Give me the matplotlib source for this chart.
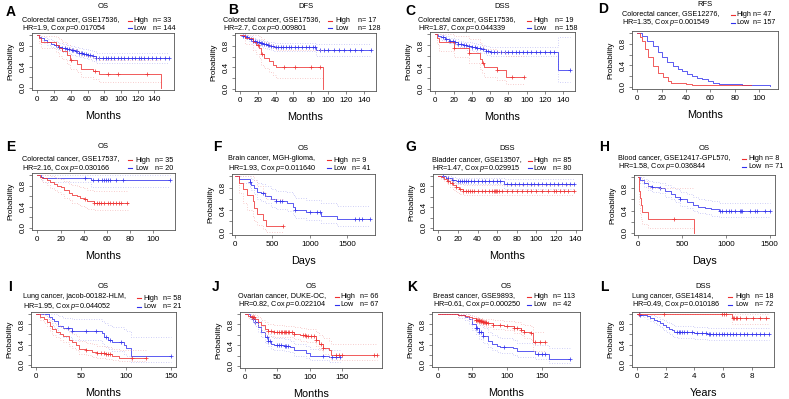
import matplotlib
matplotlib.use("Agg")
import matplotlib.pyplot as plt
from matplotlib.lines import Line2D
import numpy as np

plt.rcParams['font.family'] = ['Liberation Sans', 'DejaVu Sans']
plt.rcParams['mathtext.fontset'] = 'custom'
plt.rcParams['mathtext.rm'] = 'Liberation Sans'
plt.rcParams['mathtext.it'] = 'Liberation Sans:italic'

W, H = 789, 399

# ---- data: step times, survival after step, 95% CI (lo/hi), censor times ----
# A  OS colorectal GSE17536
a_high_t = [0, 2, 4, 22, 26, 30, 35, 39, 48, 52, 66, 74, 148]
a_high_s = [1.0, 0.94, 0.87, 0.81, 0.75, 0.69, 0.62, 0.52, 0.46, 0.36, 0.32, 0.26, 0.0]
a_high_lo = [1.0, 0.86, 0.76, 0.68, 0.61, 0.54, 0.46, 0.36, 0.30, 0.21, 0.17, 0.12, 0.12]
a_high_hi = [1.0, 1.0, 0.99, 0.96, 0.92, 0.87, 0.82, 0.74, 0.69, 0.60, 0.57, 0.52, 0.52]
a_high_c = [40, 69, 84, 96, 131]
a_low_t = [0, 2, 5, 8, 12, 16, 20, 25, 30, 35, 40, 45, 50, 55, 60, 65, 70, 157]
a_low_s = [1.0, 0.97, 0.94, 0.91, 0.87, 0.84, 0.81, 0.78, 0.75, 0.73, 0.71, 0.69, 0.67, 0.65, 0.62, 0.60, 0.56, 0.56]
a_low_lo = [1.0, 0.94, 0.90, 0.86, 0.82, 0.78, 0.75, 0.71, 0.68, 0.66, 0.63, 0.61, 0.59, 0.57, 0.54, 0.51, 0.47, 0.47]
a_low_hi = [1.0, 1.0, 0.98, 0.96, 0.93, 0.90, 0.88, 0.85, 0.83, 0.81, 0.79, 0.78, 0.76, 0.74, 0.72, 0.70, 0.66, 0.66]
a_low_c = [22, 26, 30, 33, 36, 38, 41, 43, 46, 48, 50, 52, 54, 56, 58, 61, 63, 66, 70, 74, 78, 82, 85,
           88, 92, 96, 100, 104, 108, 113, 117, 121, 124, 128, 132, 137, 142, 147, 152, 157]

# B  DFS colorectal GSE17536
b_high_t = [0, 5, 15, 18, 21, 24, 27, 33, 37, 41, 94]
b_high_s = [1.0, 0.94, 0.88, 0.82, 0.76, 0.64, 0.58, 0.52, 0.45, 0.40, 0.0]
b_high_lo = [1.0, 0.83, 0.73, 0.65, 0.57, 0.44, 0.38, 0.32, 0.26, 0.21, 0.21]
b_high_hi = [1.0, 1.0, 1.0, 1.0, 0.99, 0.92, 0.87, 0.82, 0.77, 0.73, 0.73]
b_high_c = [20, 25, 50, 62, 80, 90]
b_low_t = [0, 3, 6, 10, 14, 18, 22, 26, 30, 35, 38, 86, 148]
b_low_s = [1.0, 0.98, 0.96, 0.93, 0.90, 0.87, 0.85, 0.83, 0.81, 0.79, 0.78, 0.72, 0.72]
b_low_lo = [1.0, 0.96, 0.92, 0.89, 0.85, 0.81, 0.79, 0.77, 0.74, 0.72, 0.71, 0.62, 0.62]
b_low_hi = [1.0, 1.0, 1.0, 0.98, 0.95, 0.93, 0.91, 0.90, 0.88, 0.87, 0.86, 0.83, 0.83]
b_low_c = [3, 5, 8, 12, 15, 17, 19, 21, 23, 25, 27, 29, 31, 33, 35, 37, 40, 43, 46, 49, 52, 55, 58,
           62, 66, 70, 74, 78, 82, 85, 90, 95, 100, 106, 112, 118, 124, 130, 137, 148]

# C  DSS colorectal GSE17536
c_high_t = [0, 2, 4, 20, 37, 49, 51, 53, 68, 77, 97]
c_high_s = [1.0, 0.93, 0.85, 0.75, 0.66, 0.55, 0.48, 0.40, 0.34, 0.22, 0.22]
c_high_lo = [1.0, 0.82, 0.70, 0.58, 0.47, 0.36, 0.29, 0.22, 0.17, 0.08, 0.08]
c_high_hi = [1.0, 1.0, 1.0, 0.97, 0.92, 0.84, 0.78, 0.72, 0.67, 0.60, 0.60]
c_high_c = [20, 37, 52, 68, 84, 97]
c_low_t = [0, 3, 6, 10, 15, 20, 25, 30, 35, 40, 45, 50, 55, 60, 134, 147]
c_low_s = [1.0, 0.97, 0.94, 0.91, 0.88, 0.85, 0.82, 0.80, 0.78, 0.76, 0.74, 0.72, 0.70, 0.68, 0.34, 0.34]
c_low_lo = [1.0, 0.94, 0.90, 0.87, 0.83, 0.80, 0.76, 0.74, 0.71, 0.69, 0.67, 0.65, 0.62, 0.60, 0.12, 0.12]
c_low_hi = [1.0, 1.0, 0.98, 0.96, 0.93, 0.91, 0.88, 0.86, 0.85, 0.83, 0.82, 0.80, 0.79, 0.77, 0.95, 0.95]
c_low_c = [8, 12, 16, 19, 22, 25, 28, 31, 34, 37, 40, 43, 46, 49, 52, 55, 58, 61, 64, 68, 72, 76,
           80, 84, 88, 92, 96, 100, 105, 110, 115, 120, 125, 130, 147]

# D  RFS colorectal GSE12276
d_high_t = [0, 2, 3.5, 6, 9, 13, 17, 21, 25, 28, 33, 40, 45, 53, 93]
d_high_s = [1.0, 0.92, 0.86, 0.71, 0.56, 0.38, 0.26, 0.18, 0.11, 0.08, 0.07, 0.06, 0.04, 0.03, 0.03]
d_high_lo = []
d_high_hi = []
d_high_c = []
d_low_t = [0, 3.5, 8, 13, 17, 20, 24, 29, 33, 37, 41, 45, 49, 53, 58, 62, 67, 72, 86, 99, 109]
d_low_s = [1.0, 0.95, 0.86, 0.77, 0.65, 0.56, 0.47, 0.38, 0.33, 0.29, 0.24, 0.20, 0.17, 0.14, 0.11, 0.08, 0.06, 0.05, 0.04, 0.03, 0.01]
d_low_lo = []
d_low_hi = []
d_low_c = []

# E  OS colorectal GSE17537
e_high_t = [0, 2, 4, 8, 11, 14, 17, 20, 23, 27, 30, 34, 37, 40, 43, 49, 78]
e_high_s = [1.0, 0.97, 0.94, 0.91, 0.86, 0.83, 0.80, 0.77, 0.71, 0.66, 0.63, 0.60, 0.57, 0.54, 0.51, 0.48, 0.48]
e_high_lo = [1.0, 0.92, 0.86, 0.82, 0.75, 0.71, 0.68, 0.64, 0.57, 0.52, 0.48, 0.45, 0.42, 0.39, 0.36, 0.33, 0.33]
e_high_hi = [1.0, 1.0, 1.0, 1.0, 0.98, 0.96, 0.94, 0.92, 0.88, 0.84, 0.82, 0.80, 0.77, 0.75, 0.72, 0.70, 0.70]
e_high_c = [41, 49, 51, 53, 55, 57, 61, 63, 65, 68, 70, 72, 77]
e_low_t = [0, 3, 5, 46, 114]
e_low_s = [1.0, 0.97, 0.95, 0.90, 0.90]
e_low_lo = [1.0, 0.90, 0.86, 0.77, 0.77]
e_low_hi = [1.0, 1.0, 1.0, 1.0, 1.0]
e_low_c = [41, 48, 52, 56, 57, 59, 61, 63, 68, 74, 114]

# F  OS brain MGH-glioma (days)
f_high_t = [0, 50, 110, 160, 240, 260, 290, 370, 410, 640]
f_high_s = [1.0, 0.889, 0.778, 0.667, 0.556, 0.444, 0.333, 0.222, 0.111, 0.111]
f_high_lo = [1.0, 0.70, 0.53, 0.40, 0.30, 0.21, 0.13, 0.07, 0.02, 0.02]
f_high_hi = [1.0, 1.0, 1.0, 1.0, 1.0, 0.93, 0.83, 0.72, 0.60, 0.60]
f_high_c = [640]
f_low_t = [0, 50, 200, 220, 250, 300, 350, 400, 480, 550, 700, 780, 800, 950, 1150, 1360, 1800]
f_low_s = [1.0, 0.95, 0.90, 0.85, 0.80, 0.73, 0.70, 0.65, 0.60, 0.56, 0.53, 0.46, 0.40, 0.36, 0.30, 0.25, 0.25]
f_low_lo = [1.0, 0.88, 0.81, 0.75, 0.69, 0.60, 0.57, 0.52, 0.46, 0.42, 0.39, 0.32, 0.26, 0.22, 0.17, 0.12, 0.12]
f_low_hi = [1.0, 1.0, 1.0, 0.96, 0.93, 0.88, 0.86, 0.82, 0.78, 0.74, 0.72, 0.66, 0.61, 0.58, 0.52, 0.48, 0.48]
f_low_c = [200, 380, 550, 600, 630, 800, 1000, 1100, 1130, 1600, 1650, 1700, 1800]

# G  DSS bladder GSE13507
g_high_t = [0, 3, 6, 9, 12, 15, 18, 21, 25, 138]
g_high_s = [1.0, 0.98, 0.95, 0.91, 0.86, 0.82, 0.78, 0.75, 0.72, 0.72]
g_high_lo = [1.0, 0.95, 0.90, 0.85, 0.79, 0.74, 0.70, 0.66, 0.63, 0.63]
g_high_hi = [1.0, 1.0, 1.0, 0.97, 0.94, 0.91, 0.87, 0.85, 0.83, 0.83]
g_high_c = [10, 14, 18, 22, 25, 28, 30, 32, 34, 36, 40, 44, 48, 52, 55, 57, 58, 59, 60, 62, 65, 70,
            75, 80, 85, 90, 95, 100, 106, 112, 118, 120, 124, 128, 132, 138]
g_low_t = [0, 8, 14, 18, 67, 138]
g_low_s = [1.0, 0.97, 0.93, 0.90, 0.84, 0.84]
g_low_lo = [1.0, 0.93, 0.88, 0.84, 0.75, 0.75]
g_low_hi = [1.0, 1.0, 0.99, 0.97, 0.94, 0.94]
g_low_c = [5, 10, 15, 20, 22, 24, 26, 28, 30, 33, 36, 40, 44, 48, 52, 56, 60, 63, 70, 74, 78, 82,
           86, 90, 94, 98, 102, 106, 110, 114, 118, 122, 126, 130, 134, 138]

# H  OS blood GSE12417-GPL570 (days)
h_high_t = [0, 5, 10, 20, 30, 40, 110, 630]
h_high_s = [1.0, 0.875, 0.75, 0.625, 0.5, 0.375, 0.25, 0.0]
h_high_lo = [1.0, 0.67, 0.50, 0.36, 0.25, 0.15, 0.08, 0.08]
h_high_hi = [1.0, 1.0, 1.0, 1.0, 1.0, 0.93, 0.80, 0.80]
h_high_c = [410]
h_low_t = [0, 20, 60, 110, 150, 250, 300, 370, 420, 470, 560, 620, 680, 760, 830, 920, 1500]
h_low_s = [1.0, 0.95, 0.90, 0.85, 0.82, 0.80, 0.75, 0.70, 0.65, 0.60, 0.55, 0.50, 0.47, 0.44, 0.42, 0.39, 0.39]
h_low_lo = [1.0, 0.90, 0.83, 0.77, 0.73, 0.71, 0.65, 0.60, 0.55, 0.49, 0.44, 0.39, 0.36, 0.33, 0.31, 0.28, 0.28]
h_low_hi = [1.0, 1.0, 0.97, 0.94, 0.92, 0.90, 0.86, 0.82, 0.78, 0.73, 0.69, 0.64, 0.61, 0.59, 0.57, 0.54, 0.54]
h_low_c = [150, 250, 480, 930, 960, 1000, 1030, 1060, 1100, 1160, 1170, 1180, 1280, 1330, 1360, 1450, 1500]

# I  OS lung jacob-00182-HLM
i_high_t = [0, 4, 8, 12, 15, 18, 22, 26, 30, 36, 40, 44, 48, 55, 62, 68, 78, 84, 92, 123]
i_high_s = [1.0, 0.95, 0.90, 0.85, 0.76, 0.70, 0.65, 0.60, 0.57, 0.50, 0.46, 0.40, 0.32, 0.29, 0.26, 0.23, 0.21, 0.17, 0.14, 0.14]
i_high_lo = [1.0, 0.89, 0.83, 0.76, 0.66, 0.59, 0.54, 0.49, 0.45, 0.38, 0.34, 0.29, 0.22, 0.19, 0.16, 0.14, 0.12, 0.09, 0.07, 0.07]
i_high_hi = [1.0, 1.0, 0.98, 0.95, 0.88, 0.83, 0.79, 0.74, 0.71, 0.65, 0.61, 0.56, 0.48, 0.44, 0.41, 0.38, 0.36, 0.32, 0.29, 0.29]
i_high_c = [55, 68, 72, 76, 78, 80, 82, 107, 123]
i_low_t = [0, 14, 18, 20, 24, 30, 40, 73, 75, 80, 85, 98, 100, 106, 150]
i_low_s = [1.0, 0.95, 0.90, 0.86, 0.76, 0.72, 0.67, 0.62, 0.55, 0.50, 0.46, 0.40, 0.34, 0.17, 0.17]
i_low_lo = [1.0, 0.86, 0.78, 0.72, 0.60, 0.55, 0.50, 0.44, 0.37, 0.32, 0.28, 0.22, 0.17, 0.05, 0.05]
i_low_hi = [1.0, 1.0, 1.0, 1.0, 0.96, 0.93, 0.90, 0.87, 0.82, 0.78, 0.75, 0.71, 0.67, 0.55, 0.55]
i_low_c = [35, 40, 55, 67, 78, 82, 95, 150]

# J  OS ovarian DUKE-OC
j_high_t = [0, 5, 10, 15, 20, 25, 30, 35, 45, 60, 75, 85, 95, 110, 115, 120, 130, 133, 204]
j_high_s = [1.0, 0.97, 0.95, 0.90, 0.85, 0.78, 0.72, 0.68, 0.66, 0.65, 0.62, 0.60, 0.58, 0.50, 0.43, 0.35, 0.30, 0.22, 0.22]
j_high_lo = [1.0, 0.93, 0.90, 0.83, 0.77, 0.69, 0.62, 0.58, 0.56, 0.55, 0.51, 0.49, 0.47, 0.38, 0.31, 0.23, 0.18, 0.11, 0.11]
j_high_hi = [1.0, 1.0, 1.0, 0.98, 0.94, 0.89, 0.84, 0.80, 0.78, 0.77, 0.75, 0.73, 0.72, 0.65, 0.59, 0.53, 0.48, 0.42, 0.42]
j_high_c = [10, 12, 14, 35, 40, 45, 50, 52, 55, 57, 60, 62, 64, 66, 68, 72, 75, 90, 92, 95, 98,
            102, 106, 110, 118, 120, 140, 146, 150, 200, 204]
j_low_t = [0, 8, 12, 15, 20, 25, 30, 35, 40, 45, 60, 70, 75, 95, 100, 130, 147]
j_low_s = [1.0, 0.95, 0.90, 0.85, 0.75, 0.65, 0.55, 0.48, 0.42, 0.40, 0.39, 0.36, 0.30, 0.25, 0.20, 0.17, 0.17]
j_low_lo = [1.0, 0.90, 0.83, 0.77, 0.66, 0.55, 0.45, 0.38, 0.32, 0.30, 0.29, 0.26, 0.20, 0.16, 0.11, 0.08, 0.08]
j_low_hi = [1.0, 1.0, 0.97, 0.94, 0.86, 0.77, 0.68, 0.61, 0.55, 0.53, 0.52, 0.49, 0.43, 0.38, 0.33, 0.30, 0.30]
j_low_c = [12, 15, 34, 36, 38, 50, 52, 55, 62, 64, 66, 120, 135, 140, 147]

# K  OS breast GSE9893
k_high_t = [0, 20, 30, 40, 45, 50, 55, 60, 65, 70, 80, 95, 110, 120, 125, 135, 137, 155]
k_high_s = [1.0, 1.0, 0.99, 0.97, 0.94, 0.92, 0.89, 0.86, 0.84, 0.82, 0.79, 0.77, 0.73, 0.69, 0.65, 0.62, 0.45, 0.45]
k_high_lo = [1.0, 1.0, 0.97, 0.94, 0.90, 0.87, 0.83, 0.80, 0.77, 0.75, 0.71, 0.68, 0.63, 0.58, 0.53, 0.49, 0.28, 0.28]
k_high_hi = [1.0, 1.0, 1.0, 1.0, 0.99, 0.97, 0.95, 0.93, 0.91, 0.90, 0.88, 0.86, 0.84, 0.81, 0.78, 0.76, 0.65, 0.65]
k_high_c = [55, 56, 57, 58, 59, 60, 61, 62, 63, 64, 65, 66, 67, 68, 69, 70, 72, 80, 90, 100,
            110, 115, 120, 125, 135, 140, 147, 155]
k_low_t = [0, 20, 30, 40, 45, 50, 55, 60, 65, 72, 78, 85, 90, 108, 115, 140, 160, 190]
k_low_s = [1.0, 1.0, 0.98, 0.95, 0.90, 0.80, 0.72, 0.64, 0.56, 0.48, 0.42, 0.38, 0.36, 0.33, 0.27, 0.22, 0.12, 0.12]
k_low_lo = [1.0, 1.0, 0.93, 0.88, 0.81, 0.69, 0.60, 0.51, 0.43, 0.35, 0.29, 0.25, 0.23, 0.20, 0.15, 0.11, 0.03, 0.03]
k_low_hi = [1.0, 1.0, 1.0, 1.0, 0.99, 0.92, 0.86, 0.79, 0.72, 0.65, 0.59, 0.55, 0.53, 0.50, 0.44, 0.40, 0.34, 0.34]
k_low_c = [55, 57, 60, 62, 65, 95, 145, 150, 155, 190]

# L  DSS lung GSE14814 (years)
l_high_t = [0, 6.6, 9.2]
l_high_s = [1.0, 0.93, 0.93]
l_high_lo = [1.0, 0.80, 0.80]
l_high_hi = [1.0, 1.0, 1.0]
l_high_c = [0.1, 1.9, 5.9, 6.1, 6.2, 6.7, 6.8, 6.9, 7.0, 7.2, 7.6, 8.1, 8.6, 9.0]
l_low_t = [0, 0.2, 0.5, 0.7, 0.9, 1.2, 1.4, 1.6, 1.8, 2.0, 2.2, 2.4, 2.6, 2.8, 4.0, 4.9, 9.2]
l_low_s = [1.0, 0.99, 0.98, 0.96, 0.92, 0.89, 0.86, 0.82, 0.78, 0.74, 0.71, 0.68, 0.65, 0.64, 0.62, 0.60, 0.60]
l_low_lo = [1.0, 0.96, 0.94, 0.91, 0.86, 0.82, 0.78, 0.74, 0.69, 0.64, 0.61, 0.57, 0.54, 0.53, 0.51, 0.49, 0.49]
l_low_hi = [1.0, 1.0, 1.0, 1.0, 0.98, 0.96, 0.94, 0.91, 0.88, 0.85, 0.82, 0.80, 0.77, 0.76, 0.75, 0.73, 0.73]
l_low_c = [0.1, 0.2, 2.8, 2.9, 3.0, 3.1, 3.3, 3.5, 3.8, 4.2, 4.5, 4.8, 5.0, 5.1, 5.3, 5.5, 5.7,
           5.9, 6.1, 6.3, 6.5, 6.7, 6.9, 7.2, 7.5, 7.7, 8.0, 8.3, 8.6, 8.9, 9.2]

letters = list("ABCDEFGHIJKL")
titles = ["OS", "DFS", "DSS", "RFS", "OS", "OS", "DSS", "OS", "OS", "OS", "OS", "DSS"]
datasets = ["Colorectal cancer, GSE17536,", "Colorectal cancer, GSE17536,", "Colorectal cancer, GSE17536,",
            "Colorectal cancer, GSE12276,", "Colorectal cancer, GSE17537,", "Brain cancer, MGH-glioma,",
            "Bladder cancer, GSE13507,", "Blood cancer, GSE12417-GPL570,", "Lung cancer, jacob-00182-HLM,",
            "Ovarian cancer, DUKE-OC,", "Breast cancer, GSE9893,", "Lung cancer, GSE14814,"]
hrs = ["1.9", "2.7", "1.87", "1.35", "2.16", "1.93", "1.47", "1.58", "1.95", "0.82", "0.61", "0.49"]
pvals = ["0.017054", "0.009801", "0.044339", "0.001549", "0.030166", "0.011640",
         "0.029915", "0.036844", "0.044052", "0.022104", "0.000250", "0.010186"]
n_high = [33, 17, 19, 47, 35, 9, 85, 8, 58, 66, 113, 18]
n_low = [144, 128, 158, 157, 20, 41, 80, 71, 21, 67, 42, 72]
xlabels = ["Months"] * 5 + ["Days", "Months", "Days", "Months", "Months", "Months", "Years"]

curves = [
    ((a_high_t, a_high_s, a_high_lo, a_high_hi, a_high_c), (a_low_t, a_low_s, a_low_lo, a_low_hi, a_low_c)),
    ((b_high_t, b_high_s, b_high_lo, b_high_hi, b_high_c), (b_low_t, b_low_s, b_low_lo, b_low_hi, b_low_c)),
    ((c_high_t, c_high_s, c_high_lo, c_high_hi, c_high_c), (c_low_t, c_low_s, c_low_lo, c_low_hi, c_low_c)),
    ((d_high_t, d_high_s, d_high_lo, d_high_hi, d_high_c), (d_low_t, d_low_s, d_low_lo, d_low_hi, d_low_c)),
    ((e_high_t, e_high_s, e_high_lo, e_high_hi, e_high_c), (e_low_t, e_low_s, e_low_lo, e_low_hi, e_low_c)),
    ((f_high_t, f_high_s, f_high_lo, f_high_hi, f_high_c), (f_low_t, f_low_s, f_low_lo, f_low_hi, f_low_c)),
    ((g_high_t, g_high_s, g_high_lo, g_high_hi, g_high_c), (g_low_t, g_low_s, g_low_lo, g_low_hi, g_low_c)),
    ((h_high_t, h_high_s, h_high_lo, h_high_hi, h_high_c), (h_low_t, h_low_s, h_low_lo, h_low_hi, h_low_c)),
    ((i_high_t, i_high_s, i_high_lo, i_high_hi, i_high_c), (i_low_t, i_low_s, i_low_lo, i_low_hi, i_low_c)),
    ((j_high_t, j_high_s, j_high_lo, j_high_hi, j_high_c), (j_low_t, j_low_s, j_low_lo, j_low_hi, j_low_c)),
    ((k_high_t, k_high_s, k_high_lo, k_high_hi, k_high_c), (k_low_t, k_low_s, k_low_lo, k_low_hi, k_low_c)),
    ((l_high_t, l_high_s, l_high_lo, l_high_hi, l_high_c), (l_low_t, l_low_s, l_low_lo, l_low_hi, l_low_c)),
]

# ---- layout (pixels) ----
boxes = [(32, 33, 174, 90), (235, 33, 376, 91), (430, 32, 575, 91), (632, 31, 778, 89),
         (32, 173, 175, 230), (232, 174, 375, 235), (433, 174, 582, 230), (634, 175, 775, 235),
         (31, 312, 176, 367), (240, 312, 382, 368), (432, 312, 580, 367), (632, 312, 774, 367)]
xlims = [(-6.3, 163.3), (-5.9, 153.9), (-5.9, 152.9), (-4.4, 115.4), (-4.6, 118.6), (-40, 1870),
         (-5.6, 146.6), (-50, 1560), (-6, 156), (-8, 212), (-8, 205), (-0.37, 9.57)]
xticks = [np.arange(0, 141, 20)] * 3 + [np.arange(0, 101, 20)] * 2 + [np.arange(0, 1501, 500),
          np.arange(0, 141, 20), np.arange(0, 1501, 500)] + [np.arange(0, 151, 50)] * 3 + [np.arange(0, 9, 2)]
letter_pos = [(11, 12), (233, 10), (410, 11), (603, 9), (11, 147), (217, 147), (411, 147), (604, 147),
              (10, 287), (216, 287), (412, 287), (604, 287)]
# text_x, y1, y2, dash_x, label_x, n_x
legend_pos = [(22, 20, 28, 128, 133, 153), (223, 20, 28, 328, 335, 358), (418, 20, 28, 527, 533, 555),
              (622, 14, 23, 731, 736, 753), (22, 159, 168, 128, 135, 155), (228, 159, 168, 327, 333, 352),
              (432, 160, 168, 528, 533, 553), (618, 158, 167, 742, 748, 765), (23, 297, 307, 137, 143, 163),
              (238, 296, 305, 335, 340, 360), (433, 296, 305, 527, 533, 553), (632, 296, 305, 728, 735, 755)]

RED = '#EE3030'
BLUE = '#3030EE'
RED_CI = '#F5BDBD'
BLUE_CI = '#C0C0F5'
FRAME = '#555555'

fig = plt.figure(figsize=(W / 100, H / 100), dpi=100)


def fx(x):
    return x / W


def fy(y):
    return 1 - y / H


def km(ax, curve, color, ci_color):
    t, s, lo, hi, cens = curve
    for band in (lo, hi):
        if band:
            ax.step(t, band, where='post', color=ci_color, lw=0.6, ls=(0, (1, 2)))
    ax.step(t, s, where='post', color=color, lw=0.65, alpha=0.85)
    if cens:
        idx = np.searchsorted(t, cens, side='right') - 1
        ax.plot(cens, np.array(s)[idx], ls='none', marker='+', color=color, ms=3.2, mew=0.6, alpha=0.85)


for k in range(12):
    l, t, r, b = boxes[k]
    ax = fig.add_axes([fx(l), fy(b), (r - l) / W, (b - t) / H])
    high, low = curves[k]
    km(ax, low, BLUE, BLUE_CI)
    km(ax, high, RED, RED_CI)

    ax.set_xlim(*xlims[k])
    ax.set_ylim(-0.04, 1.04)
    ax.set_xticks(xticks[k])
    ax.set_xticklabels([str(v) for v in xticks[k]], fontsize=5.8)
    ax.set_yticks([0, 0.2, 0.4, 0.6, 0.8, 1.0])
    ax.set_yticklabels(["0.0", "", "0.4", "", "0.8", ""], fontsize=5.8, rotation=90, va='center')
    ax.tick_params(length=2.5, width=0.5, color=FRAME, pad=1.5)
    for sp in ax.spines.values():
        sp.set_color(FRAME)
        sp.set_linewidth(0.6)
    ax.set_xlabel(xlabels[k], fontsize=7.8, labelpad=6)
    ax.set_ylabel("Probability", fontsize=5.8, labelpad=3.5)

    # title and panel letter
    fig.text(fx((l + r) / 2), fy(t - 26), titles[k], fontsize=5.5, ha='center', va='center')
    lx, ly = letter_pos[k]
    fig.text(fx(lx), fy(ly), letters[k], fontsize=10, fontweight='bold', ha='center', va='center')

    # legend block
    tx, y1, y2, dx, hx, nx = legend_pos[k]
    fig.text(fx(tx), fy(y1), datasets[k], fontsize=5.2, ha='left', va='center')
    fig.text(fx(tx), fy(y2), "HR=%s, Cox $p$=%s" % (hrs[k], pvals[k]), fontsize=5.2, ha='left', va='center')
    for yy, col, lab, nn in [(y1 + 1, RED, "High", n_high[k]), (y2, BLUE, "Low", n_low[k])]:
        fig.add_artist(Line2D([fx(dx), fx(dx + 4)], [fy(yy), fy(yy)], color=col, lw=0.8))
        fig.text(fx(hx), fy(yy), lab, fontsize=5.2, ha='left', va='center')
        fig.text(fx(nx), fy(yy), "n= %d" % nn, fontsize=5.2, ha='left', va='center')

fig.savefig("out.png", dpi=100)
